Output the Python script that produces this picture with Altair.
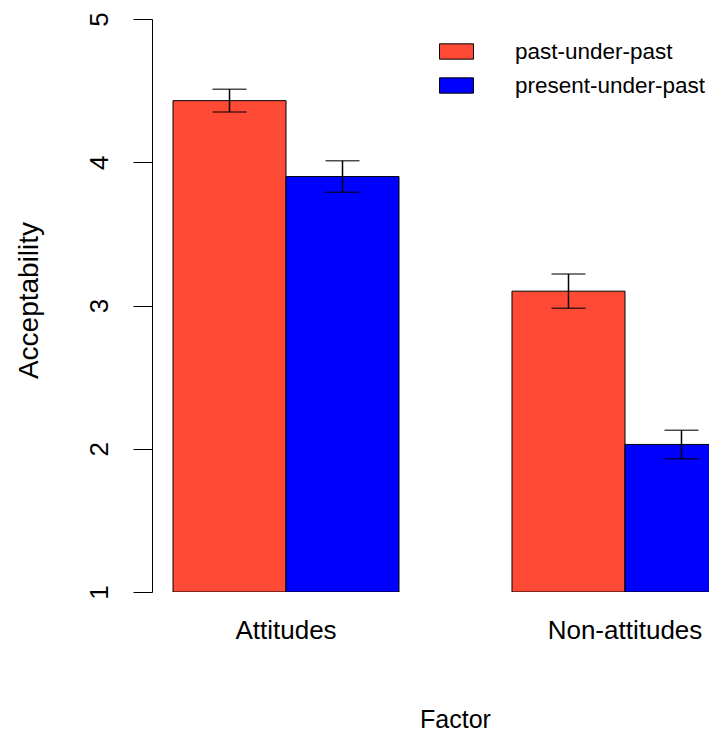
import altair as alt
import pandas as pd

factors = ["Attitudes", "Attitudes", "Non-attitudes", "Non-attitudes"]
conditions = ["past-under-past", "present-under-past", "past-under-past", "present-under-past"]
means = [4.43, 3.90, 3.10, 2.03]
lower = [4.35, 3.79, 2.98, 1.93]
upper = [4.51, 4.01, 3.22, 2.13]
base = [1, 1, 1, 1]

factor_order = ["Attitudes", "Non-attitudes"]
cond_order = ["past-under-past", "present-under-past"]
colors = ["#FF4B36", "#0000FF"]
y_ticks = [1, 2, 3, 4, 5]

df = pd.DataFrame({
    "Factor": factors,
    "Condition": conditions,
    "mean": means,
    "lo": lower,
    "hi": upper,
    "base": base,
})

FONT = "Liberation Sans"

x_scale = alt.Scale(range=[0, 607], paddingInner=1 / 3, paddingOuter=0.062)
x_enc = alt.X(
    "Factor:N",
    sort=factor_order,
    scale=x_scale,
    axis=alt.Axis(
        title="Factor",
        domain=False,
        ticks=False,
        labelAngle=0,
        labelFontSize=26,
        labelFont=FONT,
        labelColor="black",
        labelBaseline="top",
        labelPadding=25,
        titleFont=FONT,
        titleFontSize=25,
        titleFontWeight="normal",
        titleColor="black",
        titleX=303,
        titleY=127,
        titleBaseline="middle",
        titleAlign="center",
    ),
)
xoff = alt.XOffset("Condition:N", sort=cond_order, scale=alt.Scale(paddingInner=0, paddingOuter=0))
y_scale = alt.Scale(domain=[1, 5], nice=False, zero=False)
y_axis = alt.Axis(
    title="Acceptability",
    values=y_ticks,
    format="d",
    grid=False,
    domainColor="black",
    domainWidth=1,
    tickColor="black",
    tickWidth=1,
    tickSize=19,
    labelAngle=270,
    labelFontSize=26,
    labelFont=FONT,
    labelColor="black",
    labelPadding=21,
    labelAlign="center",
    labelBaseline="bottom",
    titleFont=FONT,
    titleFontSize=28,
    titleFontWeight="normal",
    titleColor="black",
    titleX=-123,
    titleY=281,
    titleAngle=270,
    titleBaseline="middle",
    titleAlign="center",
)

bars = alt.Chart(df).mark_bar(stroke="black", strokeWidth=1, clip=True).encode(
    x=x_enc,
    xOffset=xoff,
    y=alt.Y("mean:Q", scale=y_scale, axis=y_axis),
    y2="base:Q",
    fill=alt.Fill(
        "Condition:N",
        sort=cond_order,
        scale=alt.Scale(domain=cond_order, range=colors),
        legend=alt.Legend(
            title=None,
            orient="none",
            legendX=287,
            legendY=15,
            padding=0,
            symbolType="M-1,-0.45H1V0.45H-1Z",
            symbolSize=1156,
            symbolStrokeColor="black",
            symbolStrokeWidth=1,
            symbolOpacity=1,
            labelFont=FONT,
            labelFontSize=22.5,
            labelColor="black",
            labelOffset=41,
            labelLimit=400,
            rowPadding=5,
        ),
    ),
)

err = alt.Chart(df).mark_rule(color="black", strokeWidth=1.5, clip=True).encode(
    x=alt.X("Factor:N", sort=factor_order),
    xOffset=xoff,
    y=alt.Y("lo:Q", scale=y_scale),
    y2="hi:Q",
)
caps_lo = alt.Chart(df).mark_tick(color="black", size=34, thickness=1.5, clip=True).encode(
    x=alt.X("Factor:N", sort=factor_order),
    xOffset=xoff,
    y=alt.Y("lo:Q", scale=y_scale),
)
caps_hi = alt.Chart(df).mark_tick(color="black", size=34, thickness=1.5, clip=True).encode(
    x=alt.X("Factor:N", sort=factor_order),
    xOffset=xoff,
    y=alt.Y("hi:Q", scale=y_scale),
)

chart = alt.layer(bars, err, caps_lo, caps_hi).properties(
    width=557,
    height=573,
    padding={"left": 144, "top": 11, "right": 0, "bottom": 140},
    autosize=alt.AutoSizeParams(type="none"),
).configure(background="white").configure_view(stroke=None)

chart.save("out.html", embed_options={"renderer": "svg", "actions": False})
